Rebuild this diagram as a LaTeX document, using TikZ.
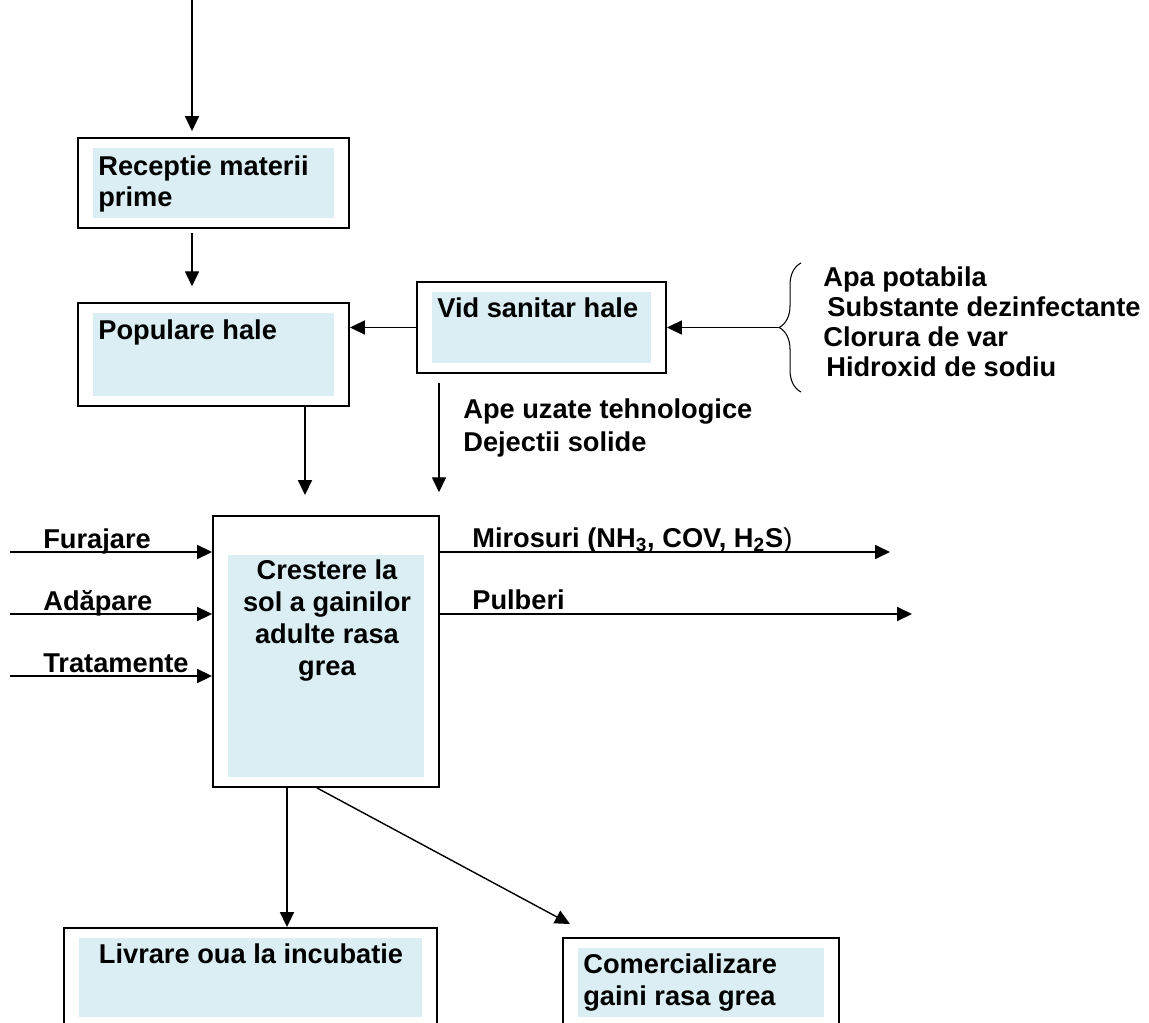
\documentclass[tikz,border=0pt]{standalone}
\usepackage{fontspec}
\setmainfont{Liberation Sans}
\usetikzlibrary{arrows.meta,calc,decorations.pathreplacing}
\definecolor{boxblue}{RGB}{219,238,243}
\begin{document}
\begin{tikzpicture}[x=0.02cm, y=-0.02cm,
			frame/.style={draw, line width=1.1pt, inner sep=0pt,
				path picture={\fill[boxblue] ($(path picture bounding box.south west)+(15,-10)$) rectangle ($(path picture bounding box.north east)+(-15,#1)$);}},
			frame/.default=10,
			txt/.style={font=\fontsize{15.5}{18.2}\selectfont\bfseries, inner sep=0pt, align=left},
			arr/.style={-{Triangle[length=8.5pt,width=8pt]}, line width=0.8pt},
			bracket/.style={decorate, decoration={brace, amplitude=12.5pt}, line width=0.6pt}
					]
			\useasboundingbox (0,0) rectangle (1149,1023);
			\clip (0,0) rectangle (1149,1023);
			% boxes
			\node[frame, minimum width=5.42cm, minimum height=1.8cm] (receptie) at (213.5,183) {};
			\node[frame, minimum width=5.42cm, minimum height=2.06cm] (populare) at (213.5,354.5) {};
			\node[frame, minimum width=4.98cm, minimum height=1.82cm] (vid) at (541.5,327.5) {};
			\node[frame=39, minimum width=4.52cm, minimum height=5.42cm] (crestere) at (326,651.5) {};
			\node[frame, minimum width=7.46cm, minimum height=1.98cm] (livrare) at (250.5,977.5) {};
			\node[frame, minimum width=5.52cm, minimum height=1.78cm] (comert) at (701,982.5) {};
			% box texts (base = last line)
			\node[txt, anchor=base west] (receptie-txt) at (98,207) {Receptie materii\\prime};
			\node[txt, anchor=base west] (populare-txt) at (98,340) {Populare hale};
			\node[txt, anchor=base west] (vid-txt) at (437,318) {Vid sanitar hale};
			\node[txt, align=center, anchor=base] (crestere-txt) at (327,675) {Crestere la\\sol a gainilor\\adulte rasa\\grea};
			\node[txt, align=center, anchor=base] (livrare-txt) at (251,963) {Livrare oua la incubatie};
			\node[txt, anchor=base west] (comert-txt) at (583,1005) {Comercializare\\gaini rasa grea};
			% flow
			\coordinate (topin) at (192,0);
			\draw[arr, shorten >=3.4pt] (topin) -- (topin |- receptie.north);
			\draw[arr, shorten <=2.3pt, shorten >=9pt] (receptie.south -| topin) -- (populare.north -| topin);
			\draw[arr] (vid.west) -- (vid.west -| populare.east);
			\coordinate (bracetip) at (778,327.5);
			\draw[bracket] (801,392) -- (801,263);
			\draw[arr] (bracetip) -- (vid.east);
			\foreach \x/\y/\t [count=\i] in {823/287/Apa potabila, 827/317/Substante dezinfectante, 823/347/Clorura de var, 826/377/Hidroxid de sodiu}
				\node[txt, anchor=base west] (chem\i) at (\x,\y) {\t};
			\coordinate (p2c) at (305,0);
			\draw[arr, shorten >=11.4pt] (populare.south -| p2c) -- (crestere.north -| p2c);
			\coordinate (v2c) at (439,0);
			\draw[arr, shorten <=5pt, shorten >=13pt] (vid.south -| v2c) -- (crestere.north -| v2c);
			\node[txt, anchor=base west, font=\fontsize{15.5}{19.3}\selectfont\bfseries] (ape) at (463,452) {Ape uzate tehnologice\\Dejectii solide};
			% inputs
			\foreach \y/\t [count=\i] in {552/Furajare, 614/Adăpare, 676/Tratamente}{
				\coordinate (in\i) at (10,\y);
				\draw[arr] (in\i) -- (in\i -| crestere.west);
				\node[txt, anchor=base west] (in\i-txt) at (43,\y-4) {\t};
			}
			% outputs
			\coordinate (out1) at (890,552);
			\coordinate (out2) at (912,614);
			\draw[arr] (crestere.east |- out1) -- (out1);
			\draw[arr] (crestere.east |- out2) -- (out2);
			\node[txt, anchor=base west] (out1-txt) at (472,547) {Mirosuri (NH\textsubscript{3}, COV, H\textsubscript{2}S\textmd{)}};
			\node[txt, anchor=base west] (out2-txt) at (472,609) {Pulberi};
			% products
			\coordinate (c2l) at (287,0);
			\draw[arr] (crestere.south -| c2l) -- (livrare.north -| c2l);
			\coordinate (d0) at (317,0);
			\coordinate (c2c) at (570,924);
			\draw[arr] (crestere.south -| d0) -- (c2c);
		\end{tikzpicture}
\end{document}
